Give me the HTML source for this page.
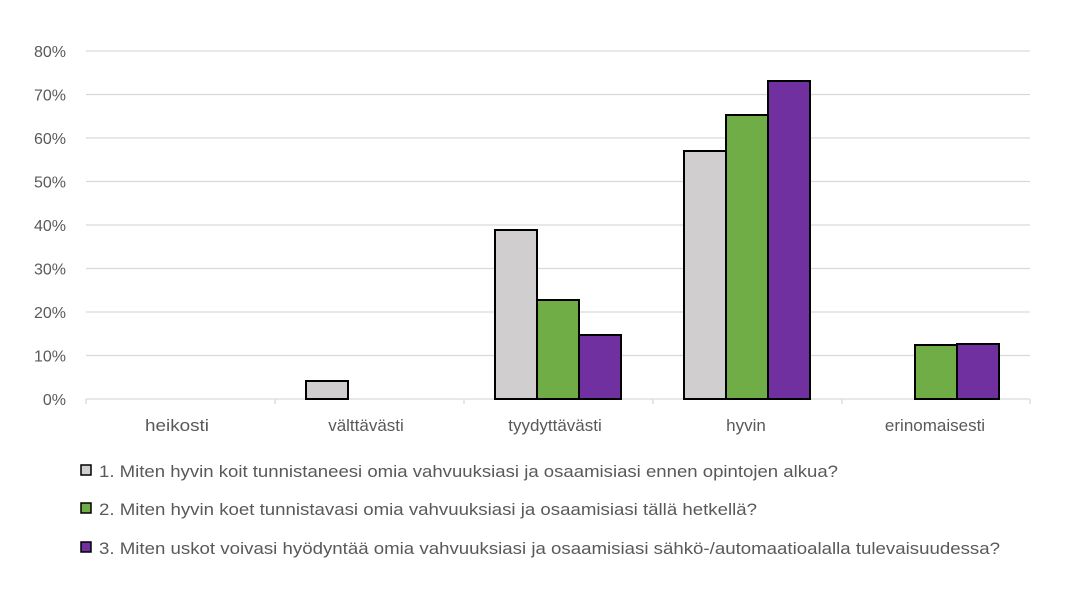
<!DOCTYPE html>
<html><head><meta charset="utf-8"><style>
body{margin:0;background:#fff;}
svg text{font-family:"Liberation Sans",sans-serif;fill:#595959;}
</style></head><body>
<svg width="1069" height="588" xmlns="http://www.w3.org/2000/svg">
<g stroke="#d9d9d9" stroke-width="1.3">
<line x1="86" x2="1030" y1="51" y2="51"/>
<line x1="86" x2="1030" y1="94.5" y2="94.5"/>
<line x1="86" x2="1030" y1="138" y2="138"/>
<line x1="86" x2="1030" y1="181.5" y2="181.5"/>
<line x1="86" x2="1030" y1="225" y2="225"/>
<line x1="86" x2="1030" y1="268.5" y2="268.5"/>
<line x1="86" x2="1030" y1="312" y2="312"/>
<line x1="86" x2="1030" y1="355.5" y2="355.5"/>
<line x1="86" x2="1030" y1="399" y2="399"/>
<line x1="86" x2="86" y1="399" y2="404"/>
<line x1="275" x2="275" y1="399" y2="404"/>
<line x1="464" x2="464" y1="399" y2="404"/>
<line x1="653" x2="653" y1="399" y2="404"/>
<line x1="842" x2="842" y1="399" y2="404"/>
<line x1="1030" x2="1030" y1="399" y2="404"/>
</g>
<g font-size="16" text-anchor="end">
<text x="66" y="57">80%</text><text x="66" y="100.5">70%</text><text x="66" y="144">60%</text>
<text x="66" y="187.5">50%</text><text x="66" y="231">40%</text><text x="66" y="274.5">30%</text>
<text x="66" y="318">20%</text><text x="66" y="361.5">10%</text><text x="66" y="405">0%</text>
</g>
<g stroke="#000" stroke-width="2">
<rect x="306" y="381" width="42" height="18" fill="#d0cece"/>
<rect x="495" y="230" width="42" height="169" fill="#d0cece"/>
<rect x="537" y="300" width="42" height="99" fill="#70ad47"/>
<rect x="579" y="335" width="42" height="64" fill="#7030a0"/>
<rect x="684" y="151" width="42" height="248" fill="#d0cece"/>
<rect x="726" y="115" width="42" height="284" fill="#70ad47"/>
<rect x="768" y="81" width="42" height="318" fill="#7030a0"/>
<rect x="915" y="345" width="42" height="54" fill="#70ad47"/>
<rect x="957" y="344" width="42" height="55" fill="#7030a0"/>
</g>
<g font-size="17" text-anchor="middle">
<text x="177" y="431" textLength="64" lengthAdjust="spacingAndGlyphs">heikosti</text>
<text x="366" y="431">välttävästi</text>
<text x="555" y="431">tyydyttävästi</text>
<text x="746" y="431">hyvin</text>
<text x="935" y="431">erinomaisesti</text>
</g>
<g stroke="#000" stroke-width="1.5">
<rect x="81" y="465" width="10" height="10" fill="#d0cece"/>
<rect x="81" y="503" width="10" height="10" fill="#70ad47"/>
<rect x="81" y="542" width="10" height="10" fill="#7030a0"/>
</g>
<g font-size="17">
<text x="99" y="477" textLength="739" lengthAdjust="spacingAndGlyphs">1. Miten hyvin koit tunnistaneesi omia vahvuuksiasi ja osaamisiasi ennen opintojen alkua?</text>
<text x="99" y="515" textLength="658" lengthAdjust="spacingAndGlyphs">2. Miten hyvin koet tunnistavasi omia vahvuuksiasi ja osaamisiasi tällä hetkellä?</text>
<text x="99" y="554" textLength="901" lengthAdjust="spacingAndGlyphs">3. Miten uskot voivasi hyödyntää omia vahvuuksiasi ja osaamisiasi sähkö-/automaatioalalla tulevaisuudessa?</text>
</g>
</svg>
</body></html>
